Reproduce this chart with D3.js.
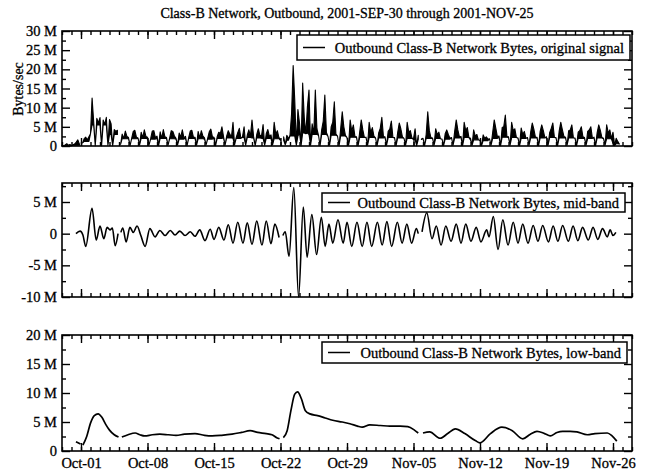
<!DOCTYPE html>
<html>
<head>
<meta charset="utf-8">
<script src="https://cdn.jsdelivr.net/npm/d3@7"></script>
<style>
  body { margin: 0; background: #fff; }
  svg { display: block; }
  text { font-family: "Liberation Serif", "Times New Roman", serif; fill: #000; stroke: #000; stroke-width: 0.3px; }
</style>
</head>
<body>
<svg id="chart" width="648" height="470"></svg>
<script>
// ---- data -------------------------------------------------------------
const chartTitle = "Class-B Network, Outbound, 2001-SEP-30 through 2001-NOV-25";
const yAxisTitle = "Bytes/sec";
const seriesNames = [
  "Outbound Class-B Network Bytes, original signal",
  "Outbound Class-B Network Bytes, mid-band",
  "Outbound Class-B Network Bytes, low-band"
];
// dates of the labelled (weekly) ticks
const weekTicks = ["2001-10-01", "2001-10-08", "2001-10-15", "2001-10-22", "2001-10-29",
                   "2001-11-05", "2001-11-12", "2001-11-19", "2001-11-26"];
const axisStart = "2001-09-29";
const axisEnd = "2001-11-28";

// original signal, M bytes/sec: upper envelope of each 4-hour bin,
// one row per day starting 2001-09-29 (00h 04h 08h 12h 16h 20h); null = no record
const originalSignal = [
  [0.2, 0.0, 0.3, 0.6, 0.2, 0.4],
  [0.1, 0.3, 0.5, 1.0, 1.6, 0.5],
  [null, 0.8, 1.9, 2.3, 1.6, 2.4],
  [3.2, 12.5, 6.4, 0.1, 7.2, 6.0],
  [7.4, 0.1, 6.8, 5.6, 7.5, 0.2],
  [6.9, 5.8, 0.1, 4.3, 3.8, 4.1],
  [null, 0.4, 3.1, 2.0, 3.9, 2.5],
  [2.2, 0.1, 2.0, 3.8, 4.1, 2.3],
  [2.1, 0.2, 3.6, 2.2, 4.2, 2.5],
  [2.3, 0.3, 1.9, 3.9, 4.0, 2.2],
  [2.6, 0.1, 3.7, 2.0, 4.3, 2.4],
  [2.2, 0.2, 2.1, 4.0, 3.8, 2.6],
  [2.0, 0.3, 3.4, 2.3, 4.2, 2.1],
  [2.5, 0.1, 2.2, 3.9, 4.1, 2.3],
  [2.3, 0.2, 3.8, 2.1, 4.0, 2.6],
  [2.1, 0.3, 2.0, 3.7, 4.4, 2.4],
  [2.3, 0.1, 2.4, 3.6, 3.2, 5.0],
  [2.5, 0.2, 2.6, 4.0, 3.1, 2.3],
  [6.2, 0.3, 2.2, 3.5, 4.6, 2.0],
  [2.4, 5.0, 0.2, 2.8, 4.2, 2.6],
  [6.8, 2.5, 0.1, 3.0, 4.5, 2.8],
  [2.6, 5.6, 0.2, 3.2, 4.3, 2.5],
  [2.9, 0.3, 6.2, 3.1, 4.0, 2.2],
  [1.8, null, 2.4, 0.3, 2.8, 1.9],
  [2.8, 8.5, 21.0, 12.0, 0.2, 9.5],
  [6.0, 0.1, 16.4, 7.5, 3.2, 10.2],
  [14.6, 0.2, 5.8, 3.0, 14.6, 4.5],
  [2.8, 0.1, 4.2, 6.5, 13.3, 3.5],
  [2.5, 0.2, 5.0, 6.2, 11.5, 3.1],
  [2.6, 0.1, 4.5, 8.9, 5.0, 2.8],
  [2.2, 0.2, 6.8, 3.8, 5.5, 2.5],
  [2.4, 0.1, 3.6, 6.8, 4.2, 2.2],
  [2.3, 0.2, 6.2, 3.5, 4.8, 2.6],
  [2.1, 0.1, 3.4, 4.6, 7.5, 2.5],
  [2.4, 0.2, 3.8, 4.4, 6.5, 2.3],
  [2.2, 0.1, 3.5, 6.0, 4.5, 2.4],
  [2.0, 0.2, 6.2, 3.6, 4.0, 2.1],
  [1.9, 4.5, 0.1, 2.8, null, 1.8],
  [2.0, 0.1, 3.0, 8.9, 4.0, 2.2],
  [2.1, 0.2, 4.5, 3.0, 3.6, 1.9],
  [1.8, 0.1, 3.2, 4.2, 3.0, 2.0],
  [2.2, 0.2, 3.8, 6.8, 4.2, 2.4],
  [2.5, 0.1, 6.2, 4.0, 4.8, 2.2],
  [2.0, 0.2, 4.2, 2.6, 3.0, 1.6],
  [1.5, 0.1, 2.9, 2.0, 2.4, 1.8],
  [1.9, 0.2, 3.5, 6.8, 4.6, 2.4],
  [2.6, 0.1, 4.8, 5.0, 8.1, 2.5],
  [2.4, 0.2, 6.2, 4.0, 4.5, 2.2],
  [2.1, 0.1, 4.7, 3.0, 3.8, 2.0],
  [2.2, 0.2, 3.6, 6.0, 4.4, 2.3],
  [2.3, 0.1, 3.8, 5.5, 4.0, 2.1],
  [2.4, 0.2, 3.5, 4.6, 6.0, 2.2],
  [2.2, 0.1, 3.9, 6.2, 4.3, 2.5],
  [2.3, 0.2, 4.0, 4.2, 5.5, 2.1],
  [2.1, 0.1, 3.6, 4.0, 5.0, 2.4],
  [2.2, 0.2, 3.8, 4.2, 5.0, 2.0],
  [2.3, 0.1, 3.5, 5.5, 4.1, 2.2],
  [2.0, 0.2, 5.5, 3.4, 4.2, 1.9],
  [3.6, 0.1, 2.0, 1.2, 0.5, null]
];

// original signal, M bytes/sec: typical daily floor of the busy-hour band, one value per day
const originalFloor = [
  0.0, 0.2, 1.2, 5.5, 5.5, 3.0, 1.9, 1.9, 2.0, 1.8, 2.0, 1.9, 1.8, 2.0, 1.9, 1.8,
  2.0, 2.1, 2.0, 2.2, 2.1, 2.0, 1.9, 1.5, 2.6, 3.4, 3.0, 3.0, 2.8, 2.6, 2.3, 2.2,
  2.2, 2.1, 2.2, 2.1, 2.0, 1.7, 2.0, 2.0, 1.8, 2.1, 2.2, 1.6, 1.4, 2.0, 2.3, 2.2,
  2.0, 2.1, 2.1, 2.2, 2.1, 2.1, 2.0, 2.0, 2.1, 1.9, 0.6
];

// mid-band component, [days after 2001-09-29, M bytes/sec]; null = break in record
const midBand = [
  [1.47, 0.0], [1.9, 0.4], [2.2, -0.2], [2.5, -2.0], [3.16, 4.0], [3.6, -1.0], [4.0, 1.2],
  [4.4, -0.8], [4.75, 1.0], [5.05, 0.6], [5.3, 0.9], [5.6, -1.9], [5.9, 0.0],
  null,
  [6.2, 0.2], [6.4, 0.9], [6.75, -1.3], [7.15, 1.0], [7.5, 0.2], [7.9, 1.2], [8.3, -0.3],
  [8.75, -2.0], [9.25, 0.8], [9.8, -0.5], [10.3, 0.5], [10.85, -0.3], [11.4, 0.5],
  [11.9, -0.2], [12.4, 0.4], [12.95, -0.3], [13.5, 0.3], [14.0, -0.4], [14.5, 0.6],
  [15.05, -1.1], [15.6, 0.7], [16.0, -0.9], [16.5, 1.0], [17.05, -1.0], [17.5, 1.4],
  [18.0, -1.5], [18.5, 1.8], [19.05, -1.5], [19.5, 1.7], [20.0, -1.7], [20.5, 2.0],
  [21.05, -1.8], [21.5, 2.0], [22.0, -1.6], [22.4, 1.5], [22.85, -0.6],
  null,
  [23.25, -0.3], [23.5, 0.3], [23.9, -3.6], [24.4, 7.3], [24.9, -10.0], [25.4, 4.2],
  [25.8, -3.7], [26.3, 3.0], [26.8, -3.3], [27.3, 2.6], [27.7, -2.0], [28.1, 1.5],
  [28.5, -1.5], [29.05, 2.2], [29.6, -1.5], [30.0, 1.8], [30.5, -2.0], [31.05, 1.8],
  [31.6, -2.0], [32.1, 1.8], [32.6, -2.0], [33.2, 1.8], [33.7, -1.8], [34.2, 1.9],
  [34.7, -2.0], [35.3, 1.8], [35.8, -1.5], [36.3, 1.5], [36.8, -1.5], [37.3, 0.8], [37.5, 0.0],
  null,
  [37.9, 0.3], [38.4, 3.3], [38.95, -0.8], [39.4, 1.2], [39.9, -1.8], [40.4, 1.2],
  [40.95, -1.2], [41.5, 1.5], [42.0, -1.5], [42.5, 1.5], [43.05, -1.2], [43.6, 1.0],
  [44.1, -1.3], [44.7, 0.6], [44.95, -0.5], [45.4, 2.7], [45.9, -2.5], [46.4, 2.2],
  [46.95, -1.8], [47.5, 1.8], [48.0, -1.5], [48.5, 1.5], [49.05, -1.5], [49.6, 1.3],
  [50.1, -1.2], [50.6, 1.3], [51.2, -1.3], [51.7, 1.2], [52.2, -1.2], [52.7, 1.3],
  [53.3, -1.2], [53.8, 1.2], [54.3, -1.1], [54.8, 1.0], [55.4, -1.0], [55.9, 1.0],
  [56.4, -0.9], [56.9, 0.8], [57.4, -0.5], [57.7, 0.6], [58.0, -0.3], [58.3, 0.2]
];

// low-band component, [days after 2001-09-29, M bytes/sec]; null = break in record
const lowBand = [
  [1.47, 1.6], [1.95, 1.2],
  null,
  [2.2, 1.0], [2.6, 2.5], [3.0, 4.8], [3.4, 6.1], [3.8, 6.4], [4.2, 5.8], [4.6, 4.6],
  [5.0, 3.6], [5.5, 2.8], [5.95, 2.4],
  null,
  [6.3, 2.4], [6.95, 2.8], [7.7, 3.1], [8.2, 2.8], [8.7, 2.6], [9.5, 2.8], [10.3, 2.9],
  [11.2, 2.8], [12.0, 2.7], [12.9, 2.9], [14.0, 3.0], [15.0, 2.7], [15.8, 2.6], [16.8, 2.7],
  [17.9, 2.9], [18.9, 3.2], [19.8, 3.5], [20.6, 3.2], [21.5, 3.0], [22.1, 2.8], [22.6, 2.3],
  [22.9, 2.1],
  null,
  [23.3, 2.3], [23.7, 3.5], [24.1, 7.0], [24.5, 9.8], [24.8, 10.2], [25.2, 9.0], [25.6, 7.0],
  [26.1, 6.4], [26.9, 6.1], [27.7, 5.7], [28.5, 5.3], [29.5, 5.0], [30.3, 4.7], [31.1, 4.3],
  [31.6, 4.1], [32.4, 4.5], [33.5, 4.4], [34.5, 4.3], [35.6, 4.3], [36.4, 4.2], [37.1, 3.6],
  [37.5, 3.1],
  null,
  [38.0, 3.1], [38.7, 3.3], [39.8, 2.2], [40.6, 3.0], [41.4, 3.8], [42.4, 3.0], [43.5, 1.8],
  [44.0, 1.4], [45.1, 3.0], [46.3, 4.1], [47.4, 3.5], [48.5, 2.1], [49.3, 2.9], [50.0, 3.4],
  [50.8, 3.0], [51.4, 2.6], [52.1, 3.2], [52.7, 3.4], [53.5, 3.4], [54.2, 3.3], [55.3, 2.8],
  [56.1, 3.0], [57.4, 3.1], [57.9, 2.6], [58.4, 1.7]
];

// ---- layout -----------------------------------------------------------
const DAY = 86400000;
const MEGA = 1e6;
const t0 = Date.parse(axisStart + "T00:00:00Z");
const dayToDate = d => new Date(t0 + d * DAY);

const margin = { left: 62, right: 632 };
const panels = [
  { top: 31,  bottom: 146, domain: [0, 30], major: [0, 5, 10, 15, 20, 25, 30],
    minor: [2.5, 7.5, 12.5, 17.5, 22.5, 27.5],
    legend: { x0: 297, x1: 630, y0: 35, y1: 60, name: seriesNames[0] } },
  { top: 183, bottom: 297, domain: [-10, 8], major: [-10, -5, 0, 5],
    minor: [-7.5, -2.5, 2.5, 7.5],
    legend: { x0: 322, x1: 625, y0: 193, y1: 212, name: seriesNames[1] } },
  { top: 335, bottom: 451, domain: [0, 20], major: [0, 5, 10, 15, 20],
    minor: [2.5, 7.5, 12.5, 17.5],
    legend: { x0: 322, x1: 627, y0: 342, y1: 363, name: seriesNames[2] } }
];

const svg = d3.select("#chart");

const x = d3.scaleUtc()
  .domain([new Date(axisStart + "T00:00:00Z"), new Date(axisEnd + "T00:00:00Z")])
  .range([margin.left, margin.right]);

const weekDates = weekTicks.map(s => new Date(s + "T00:00:00Z"));
const dailyDates = d3.utcDay.range(x.domain()[0], d3.utcDay.offset(x.domain()[1], 1));
const fmtY = v => v === 0 ? "0" : `${v} M`;

// title
svg.append("text")
  .attr("x", 347).attr("y", 18)
  .attr("text-anchor", "middle")
  .attr("font-size", 14)
  .text(chartTitle);

// y axis title
svg.append("text")
  .attr("transform", "translate(23,89) rotate(-90)")
  .attr("text-anchor", "middle")
  .attr("font-size", 14)
  .text(yAxisTitle);

// original signal: band between daily floor and the 4-hour upper envelope
const originalPoints = [];
originalSignal.forEach((row, d) => {
  row.forEach((v, k) => {
    originalPoints.push(v === null ? null
      : { t: dayToDate(d + k / 6), v: v * MEGA, lo: Math.min(v, originalFloor[d]) * MEGA });
  });
});
const toPoints = arr => arr.map(p => p === null ? null : { t: dayToDate(p[0]), v: p[1] * MEGA });
const seriesPoints = [originalPoints, toPoints(midBand), toPoints(lowBand)];
const seriesCurves = [d3.curveLinear, d3.curveMonotoneX, d3.curveMonotoneX];
const seriesWidths = [1.1, 1.6, 1.7];

const labelFont = sel => sel.selectAll("text")
  .attr("font-size", 14.5)
  .attr("font-family", '"Liberation Serif", serif')
  .attr("fill", "#000");

panels.forEach((p, i) => {
  const g = svg.append("g");
  const y = d3.scaleLinear().domain(p.domain.map(v => v * MEGA)).range([p.bottom, p.top]);
  const h = p.bottom - p.top;

  // series
  if (i === 0) {
    const band = d3.area()
      .defined(d => d !== null)
      .x(d => x(d.t))
      .y0(d => y(d.lo))
      .y1(d => y(d.v));
    g.append("path")
      .datum(seriesPoints[i])
      .attr("fill", "#000")
      .attr("stroke", "#000")
      .attr("stroke-width", seriesWidths[i])
      .attr("stroke-linejoin", "round")
      .attr("d", band);
  } else {
    const line = d3.line()
      .defined(d => d !== null)
      .x(d => x(d.t))
      .y(d => y(d.v))
      .curve(seriesCurves[i]);
    g.append("path")
      .datum(seriesPoints[i])
      .attr("fill", "none")
      .attr("stroke", "#000")
      .attr("stroke-width", seriesWidths[i])
      .attr("stroke-linejoin", "round")
      .attr("d", line);
  }

  // axes: left (labelled), right, top, bottom; ticks point inward
  const yMajor = p.major.map(v => v * MEGA);
  const yMinor = p.minor.map(v => v * MEGA);
  const axisStyle = sel => {
    sel.select(".domain").remove();
    sel.selectAll("line").attr("stroke", "#000").attr("stroke-width", 1.4);
  };

  g.append("g").attr("transform", `translate(${margin.left},0)`)
    .call(d3.axisLeft(y).tickValues(yMajor).tickSize(-8).tickPadding(5)
      .tickFormat(v => fmtY(v / MEGA)))
    .call(axisStyle)
    .call(labelFont);
  g.append("g").attr("transform", `translate(${margin.left},0)`)
    .call(d3.axisLeft(y).tickValues(yMinor).tickSize(-4).tickFormat(""))
    .call(axisStyle);
  g.append("g").attr("transform", `translate(${margin.right},0)`)
    .call(d3.axisRight(y).tickValues(yMajor).tickSize(-8).tickFormat(""))
    .call(axisStyle);
  g.append("g").attr("transform", `translate(${margin.right},0)`)
    .call(d3.axisRight(y).tickValues(yMinor).tickSize(-4).tickFormat(""))
    .call(axisStyle);

  g.append("g").attr("transform", `translate(0,${p.top})`)
    .call(d3.axisTop(x).tickValues(weekDates).tickSize(-8).tickFormat(""))
    .call(axisStyle);
  g.append("g").attr("transform", `translate(0,${p.top})`)
    .call(d3.axisTop(x).tickValues(dailyDates).tickSize(-4).tickFormat(""))
    .call(axisStyle);
  g.append("g").attr("transform", `translate(0,${p.bottom})`)
    .call(d3.axisBottom(x).tickValues(weekDates).tickSize(-8).tickPadding(7)
      .tickFormat(i === panels.length - 1 ? d3.utcFormat("%b-%d") : ""))
    .call(axisStyle)
    .call(labelFont);
  g.append("g").attr("transform", `translate(0,${p.bottom})`)
    .call(d3.axisBottom(x).tickValues(dailyDates).tickSize(-4).tickFormat(""))
    .call(axisStyle);

  // frame
  g.append("rect")
    .attr("x", margin.left).attr("y", p.top)
    .attr("width", margin.right - margin.left).attr("height", h)
    .attr("fill", "none").attr("stroke", "#000").attr("stroke-width", 1.6);

  // legend
  const L = p.legend;
  const lg = g.append("g");
  lg.append("rect")
    .attr("x", L.x0).attr("y", L.y0)
    .attr("width", L.x1 - L.x0).attr("height", L.y1 - L.y0)
    .attr("fill", "#fff").attr("stroke", "#000").attr("stroke-width", 1.5);
  const ly = (L.y0 + L.y1) / 2;
  lg.append("line")
    .attr("x1", L.x0 + 6).attr("x2", L.x0 + 28)
    .attr("y1", ly).attr("y2", ly)
    .attr("stroke", "#000").attr("stroke-width", 1.5);
  lg.append("text")
    .attr("x", L.x1 - 6).attr("y", ly + 5)
    .attr("text-anchor", "end")
    .attr("font-size", 14.5)
    .text(L.name);
});
</script>
</body>
</html>
